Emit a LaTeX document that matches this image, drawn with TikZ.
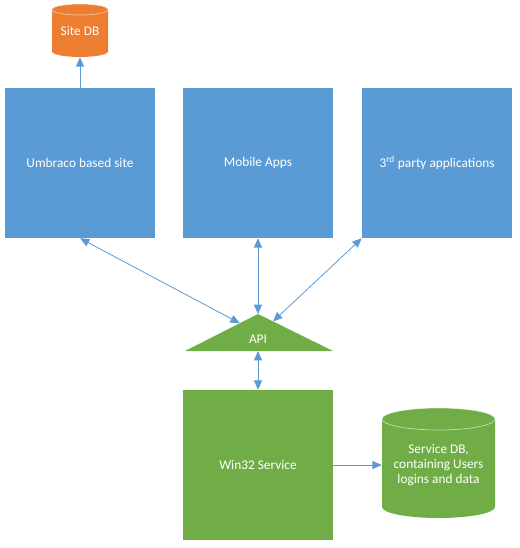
\documentclass[tikz,border=0pt]{standalone}
\usepackage{fontspec}
\setmainfont{Carlito}
\usetikzlibrary{arrows.meta,calc}
\definecolor{cblue}{HTML}{5B9BD5}
\definecolor{cgreen}{HTML}{70AD47}
\definecolor{corange}{HTML}{ED7D31}
\begin{document}
\begin{tikzpicture}[x=0.75pt,y=-0.75pt,
  txt/.style={text=white, font=\fontsize{10}{11.25}\selectfont, align=center, inner sep=0pt},
  box/.style={txt, fill=#1, minimum width=112.5pt, minimum height=112.5pt},
  link/.style={draw=cblue, line width=0.6pt, {Triangle[length=7pt,width=6pt]}-{Triangle[length=7pt,width=6pt]}},
  linkone/.style={draw=cblue, line width=0.6pt, -{Triangle[length=7pt,width=6pt]}},
  rim/.style={draw=white, draw opacity=0.6, line width=0.5pt}]
\useasboundingbox (0,0) rectangle (519,548);
% Site DB cylinder
\fill[corange] (52,9.5) -- (52,51.5) arc[start angle=180, end angle=0, x radius=28, y radius=5.5]
  -- (108,9.5) arc[start angle=0, end angle=-180, x radius=28, y radius=5.5] -- cycle;
\draw[rim] (80,9.5) ellipse[x radius=28, y radius=5.5];
\node[txt, minimum width=42pt, minimum height=39.75pt] (sitedb) at (80,30.5) {Site DB};
% Service DB cylinder
\fill[cgreen] (382,419) -- (382,507) arc[start angle=180, end angle=0, x radius=56.5, y radius=11]
  -- (495,419) arc[start angle=0, end angle=-180, x radius=56.5, y radius=11] -- cycle;
\draw[rim] (438.5,419) ellipse[x radius=56.5, y radius=11];
\node[txt, minimum width=84.75pt, minimum height=82.5pt] (servdb) at (438.5,465) {Service DB,\\containing Users\\logins and data};
% boxes
\node[box=cblue] (umb) at (80,163) {Umbraco based site};
\node[box=cblue] (mob) at (258,163) {Mobile Apps};
\node[box=cblue] (third) at (437,163) {3\textsuperscript{rd} party applications};
\node[box=cgreen] (win) at (258,465) {Win32 Service};
% API triangle
\coordinate (apex) at (258,314);
\coordinate (bl) at (185,351);
\coordinate (br) at (333,351);
\coordinate (base) at (258,351);
\fill[cgreen] (apex) -- (br) -- (bl) -- cycle;
\node[txt] (api) at (258,339) {API};
% connectors
\draw[linkone] (umb.north) -- (sitedb.south);
\draw[link] (umb.south) -- ($(apex)!0.25!(bl)$);
\draw[link] (mob.south) -- (apex);
\draw[link] (third.south west) -- ($(apex)!0.2!(br)$);
\draw[link] (base) -- (win.north);
\draw[linkone] (win.east) -- (servdb.west);
\end{tikzpicture}
\end{document}
